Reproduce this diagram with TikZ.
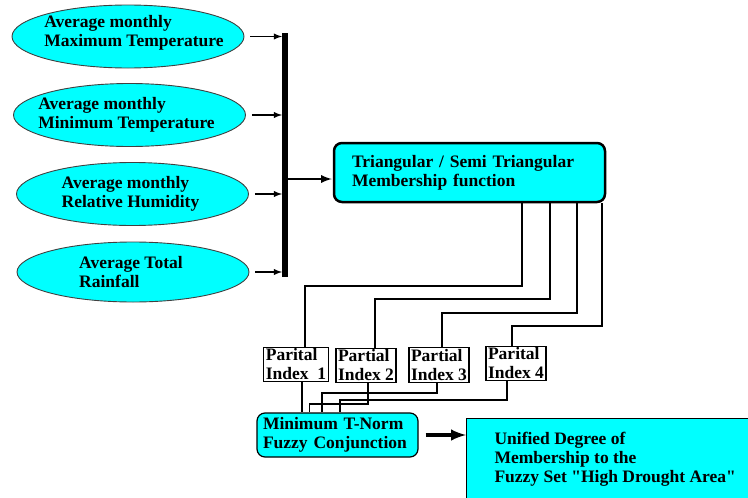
\documentclass[tikz,border=0pt]{standalone}
\usepackage{fontspec}
\setmainfont{Liberation Serif}
\newfontfamily\qfont{Liberation Serif}
\newcommand\dquote{{\qfont"}}
\usetikzlibrary{shapes.geometric}
\definecolor{fzcyan}{RGB}{0,255,255}
\begin{document}
\begin{tikzpicture}[x=1pt,y=-1pt,
  every node/.style={font=\bfseries\fontsize{17.5}{19}\selectfont},
  inp/.style={ellipse,draw=black!75,line width=0.9pt,fill=fzcyan,minimum width=232pt,minimum height=63pt,inner sep=0pt},
  lbl/.style={align=left,inner sep=0pt},
  fuzzbox/.style={draw,fill=fzcyan,align=left,rounded corners=8pt},
  pidx/.style={draw,line width=1.2pt,fill=white,align=left,inner xsep=2pt,inner ysep=1.5pt},
  inarr/.style={-latex,line width=1.8pt,shorten <=6pt,shorten >=3pt},
  link/.style={line width=1.6pt}]

\useasboundingbox (0,0) rectangle (748,498);

\node (maxt) [inp,label={[lbl,xshift=6pt,yshift=4pt]center:{Average monthly\\Maximum Temperature}}] at (128,36.5) {};
\node (mint) [inp,label={[lbl,xshift=-3pt]center:{Average monthly\\Minimum Temperature}}] at (129.5,115) {};
\node (hum) [inp,label={[lbl,xshift=-2pt]center:{Average monthly\\Relative Humidity}}] at (132.5,194) {};
\node (rain) [inp,minimum height=60pt,label={[lbl,xshift=-2pt]center:{Average Total\\Rainfall}}] at (133,272) {};

\coordinate (bustop) at (285,33);
\coordinate (busbot) at (285,277);
\coordinate (busmid) at (285,179);

\node (memb) [fuzzbox,line width=2.5pt,text width=235pt,inner xsep=18pt,minimum height=59pt] at (469.5,172.5) {Triangular / Semi Triangular\\Membership function};

\draw [inarr] (maxt.east) -- (maxt.east -| bustop);
\draw [inarr] (mint.east) -- (mint.east -| bustop);
\draw [inarr] (hum.east) -- (hum.east -| bustop);
\draw [inarr] (rain.east) -- (rain.east -| bustop);
\draw [line width=6pt] (bustop) -- (busbot);
\draw [-latex,line width=2.6pt,shorten >=1pt] (busmid) -- (busmid -| memb.west);

\node (pi1) [pidx] at (296,364.5) {Parital\\Index~~1};
\node (pi2) [pidx] at (366,365.5) {Partial\\Index 2};
\node (pi3) [pidx] at (439,365) {Partial\\Index 3};
\node (pi4) [pidx] at (516,363.5) {Parital\\Index 4};

\draw [link] ([xshift=52.5pt]memb.south) -- ++(0,83) -| ([xshift=9pt]pi1.north);
\draw [link] ([xshift=80.5pt]memb.south) -- ++(0,96) -| ([xshift=9pt]pi2.north);
\draw [link] ([xshift=107.5pt]memb.south) -- ++(0,110) -| ([xshift=3pt]pi3.north);
\draw [link] ([xshift=132.5pt]memb.south) -- ++(0,123) -| ([xshift=-4pt]pi4.north);

\node (tnorm) [fuzzbox,line width=1.2pt,text width=149pt,inner xsep=6pt,minimum height=44pt] at (337.5,435) {Minimum T-Norm\\Fuzzy Conjunction};

\draw [link] ([xshift=6pt]pi1.south) -- ([xshift=-35.5pt]tnorm.north);
\draw [link] ([xshift=2pt]pi2.south) -- ++(0,21) -| ([xshift=-28pt]tnorm.north);
\draw [link] ([xshift=-2pt]pi3.south) -- ++(0,10) -| ([xshift=-15.5pt]tnorm.north);
\draw [link] ([xshift=-9pt]pi4.south) -- ++(0,19) -| ([xshift=2.5pt]tnorm.north);

\node (unif) [draw,line width=1.2pt,fill=fzcyan,anchor=north west,minimum width=300pt,minimum height=100pt] at (466,418) {};
\node (uniftxt) [align=left,anchor=west] at (491,459) {Unified Degree of\\Membership to the\\Fuzzy Set \dquote High Drought Area\dquote};

\draw [-latex,line width=4pt] ([xshift=7pt]tnorm.east) -- (tnorm.east -| unif.west);
\end{tikzpicture}
\end{document}
